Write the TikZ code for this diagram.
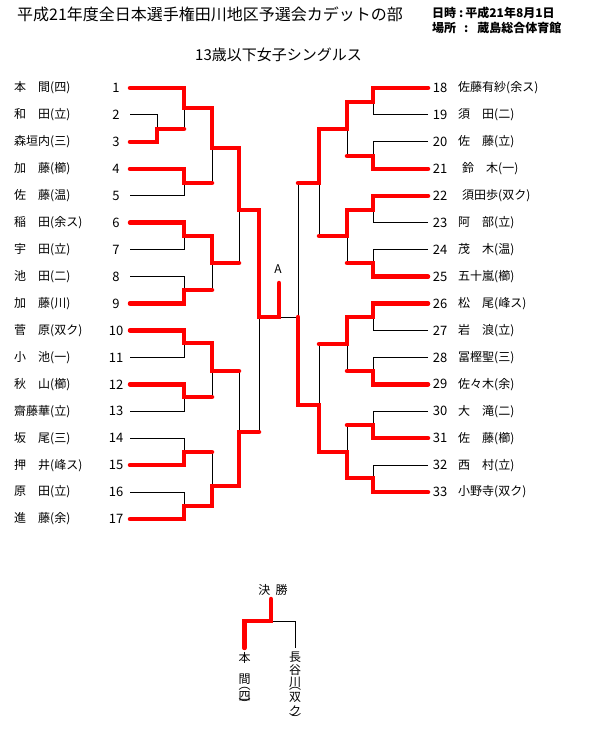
\documentclass[tikz,border=0pt]{standalone}
\usepackage{fontspec}
\setmainfont{Noto Sans CJK JP}
\usepackage{tikz}
\usetikzlibrary{calc}

\begin{document}
\begin{tikzpicture}[x=1pt, y=-1pt,
    winline/.style={red, line width=4.5pt, line cap=round, line join=miter},
    loseline/.style={black, line width=1pt},
    playername/.style={anchor=west, inner sep=0pt, font=\fontsize{12}{14}\selectfont},
    playernum/.style={inner sep=0pt, font=\fontsize{13}{15}\selectfont},
    vchar/.style={inner sep=0pt, outer ysep=4pt, font=\fontsize{12}{12}\selectfont}]

    \useasboundingbox (0,0) rectangle (599,754);

    % =================================================================
    % 1. TIÊU ĐỀ
    % =================================================================
    \node[anchor=west, inner sep=0pt, font=\fontsize{16}{18}\selectfont] (Title) at (17,14) {平成21年度全日本選手権田川地区予選会カデットの部};
    \node[anchor=west, inner sep=0pt, font=\bfseries\fontsize{12}{14}\selectfont] (DateLine) at (432,13) {日時\hspace{3pt}:\hspace{2pt}平成21年8月1日};
    \node[anchor=west, inner sep=0pt, font=\bfseries\fontsize{12}{14}\selectfont] (PlaceLine) at (432,28) {場所\hspace{8pt}:\hspace{9pt}蔵島総合体育館};
    \node[inner sep=0pt, font=\fontsize{15}{17}\selectfont] (Category) at (278.5,55) {13歳以下女子シングルス};

    % =================================================================
    % 2. TÊN VÀ SỐ THỨ TỰ (trái 1-17, phải 18-33)
    % =================================================================
    \foreach \i/\nm in {1/本　間(四), 2/和　田(立), 3/森垣内(三), 4/加　藤(櫛), 5/佐　藤(温),
        6/稲　田(余ス), 7/宇　田(立), 8/池　田(二), 9/加　藤(川), 10/菅　原(双ク),
        11/小　池(一), 12/秋　山(櫛), 13/齋藤華(立), 14/坂　尾(三), 15/押　井(峰ス),
        16/原　田(立), 17/進　藤(余)} {
        \node[playername] (Name\i) at (14, {88+(\i-1)*26.94}) {\nm};
        \node[playernum] (Num\i) at (116, {88+(\i-1)*26.94}) {\i};
        \coordinate (Start\i) at (130, {88+(\i-1)*26.94});
    }
    \foreach \i/\nm in {18/佐藤有紗(余ス), 19/須　田(二), 20/佐　藤(立), 21/\hspace{4pt}鈴　木(一),
        22/\hspace{4pt}須田歩(双ク), 23/阿　部(立), 24/茂　木(温), 25/五十嵐(櫛), 26/松　尾(峰ス),
        27/岩　浪(立), 28/冨樫聖(三), 29/佐々木(余), 30/大　滝(二), 31/佐　藤(櫛),
        32/西　村(立), 33/小野寺(双ク)} {
        \node[playernum] (Num\i) at (440, {88+(\i-18)*26.94}) {\i};
        \node[playername] (Name\i) at (458, {88+(\i-18)*26.94}) {\nm};
        \coordinate (Start\i) at (428, {88+(\i-18)*26.94});
    }

    % =================================================================
    % 3. ĐIỂM NỐI CÁC TRẬN
    % =================================================================
    % Nhánh trái
    \coordinate (L23) at (157,129);
    \coordinate (L1to3) at (184,108);
    \coordinate (L45) at (184,183);
    \coordinate (L1to5) at (212,148);
    \coordinate (L67) at (184,236);
    \coordinate (L89) at (184,290);
    \coordinate (L6to9) at (212,263);
    \coordinate (L1to9) at (239,210);
    \coordinate (L1011) at (184,343);
    \coordinate (L1213) at (184,397);
    \coordinate (L10to13) at (212,371);
    \coordinate (L1415) at (184,452);
    \coordinate (L1617) at (184,506);
    \coordinate (L14to17) at (212,486);
    \coordinate (L10to17) at (239,432);
    \coordinate (LeftSemi) at (259,317);
    % Nhánh phải
    \coordinate (R1819) at (373,102);
    \coordinate (R2021) at (373,156);
    \coordinate (R18to21) at (347,129);
    \coordinate (R2223) at (373,210);
    \coordinate (R2425) at (373,263);
    \coordinate (R22to25) at (347,236);
    \coordinate (R18to25) at (319,183);
    \coordinate (R2627) at (373,317);
    \coordinate (R2829) at (373,371);
    \coordinate (R26to29) at (347,344);
    \coordinate (R3031) at (373,425);
    \coordinate (R3233) at (373,478);
    \coordinate (R30to33) at (347,452);
    \coordinate (R26to33) at (319,405);
    \coordinate (RightSemi) at (298,317);
    % Điểm A
    \coordinate (Final) at (279,317);
    \coordinate (FinalTop) at (279,283);
    \node[inner sep=0pt, font=\fontsize{12}{14}\selectfont] (MarkA) at (278,269) {A};

    % =================================================================
    % 4. KHUNG NÉT MẢNH
    % =================================================================
    \foreach \p/\m in {1/L1to3, 2/L23, 3/L23, 4/L45, 5/L45, 6/L67, 7/L67, 8/L89, 9/L89,
        10/L1011, 11/L1011, 12/L1213, 13/L1213, 14/L1415, 15/L1415, 16/L1617, 17/L1617,
        18/R1819, 19/R1819, 20/R2021, 21/R2021, 22/R2223, 23/R2223, 24/R2425, 25/R2425,
        26/R2627, 27/R2627, 28/R2829, 29/R2829, 30/R3031, 31/R3031, 32/R3233, 33/R3233}
        \draw[loseline] (Start\p) -| (\m);
    \foreach \a/\b in {L23/L1to3, L1to3/L1to5, L45/L1to5, L67/L6to9, L89/L6to9,
        L1to5/L1to9, L6to9/L1to9, L1011/L10to13, L1213/L10to13, L1415/L14to17,
        L1617/L14to17, L10to13/L10to17, L14to17/L10to17, L1to9/LeftSemi, L10to17/LeftSemi,
        R1819/R18to21, R2021/R18to21, R2223/R22to25, R2425/R22to25, R18to21/R18to25,
        R22to25/R18to25, R2627/R26to29, R2829/R26to29, R3031/R30to33, R3233/R30to33,
        R26to29/R26to33, R30to33/R26to33, R18to25/RightSemi, R26to33/RightSemi,
        LeftSemi/Final, RightSemi/Final}
        \draw[loseline] (\a) -| (\b);

    % =================================================================
    % 5. ĐƯỜNG ĐỎ CỦA NGƯỜI THẮNG
    % =================================================================
    \draw[winline] (Start1) -| (L1to3) -| (L1to5) -| (L1to9) -| (LeftSemi) -| (FinalTop);
    \draw[winline] (Start3) -| (L23) -- (L23 -| L1to3);
    \draw[winline] (Start4) -| (L45) -- (L45 -| L1to5);
    \draw[winline] (Start6) -| (L67) -| (L6to9) -- (L6to9 -| L1to9);
    \draw[winline] (Start9) -| (L89) -- (L89 -| L6to9);
    \draw[winline] (Start10) -| (L1011) -| (L10to13) -- (L10to13 -| L10to17);
    \draw[winline] (Start12) -| (L1213) -- (L1213 -| L10to13);
    \draw[winline] (Start15) -| (L1415) -- (L1415 -| L14to17);
    \draw[winline] (Start17) -| (L1617) -| (L14to17) -| (L10to17) -- (L10to17 -| LeftSemi);
    \draw[winline] (Start18) -| (R1819) -| (R18to21) -| (R18to25) -- (R18to25 -| RightSemi);
    \draw[winline] (Start21) -| (R2021) -- (R2021 -| R18to21);
    \draw[winline] (Start22) -| (R2223) -| (R22to25) -- (R22to25 -| R18to25);
    \draw[winline] (Start25) -| (R2425) -- (R2425 -| R22to25);
    \draw[winline] (Start26) -| (R2627) -| (R26to29) -- (R26to29 -| R26to33);
    \draw[winline] (Start29) -| (R2829) -- (R2829 -| R26to29);
    \draw[winline] (Start31) -| (R3031) -- (R3031 -| R30to33);
    \draw[winline] (Start33) -| (R3233) -| (R30to33) -| (R26to33) -| (RightSemi);

    % =================================================================
    % 6. CHUNG KẾT (chữ dọc)
    % =================================================================
    \node[inner sep=0pt, font=\fontsize{12}{14}\selectfont] (FinalLabel) at (273,590) {決~~勝};
    \coordinate (ChampTop) at (271,599);
    \coordinate (ChampSplit) at (271,621);
    \foreach \c/\yy [count=\k] in {本/657.5, 間/679, ︵/688.5, 四/696, ︶/703.5}
        \node[vchar] (FinalLeft\k) at (244.5,\yy) {\c};
    \foreach \c/\yy [count=\k] in {長/657.5, 谷/670, 川/682, ︵/688.5, 双/697.5, ク/711, ︶/718.5}
        \node[vchar] (FinalRight\k) at (295,\yy) {\c};
    \draw[loseline] (ChampSplit) -| (FinalRight1.north);
    \draw[winline] (ChampTop) -- (ChampSplit) -| (FinalLeft1.north);

\end{tikzpicture}
\end{document}
